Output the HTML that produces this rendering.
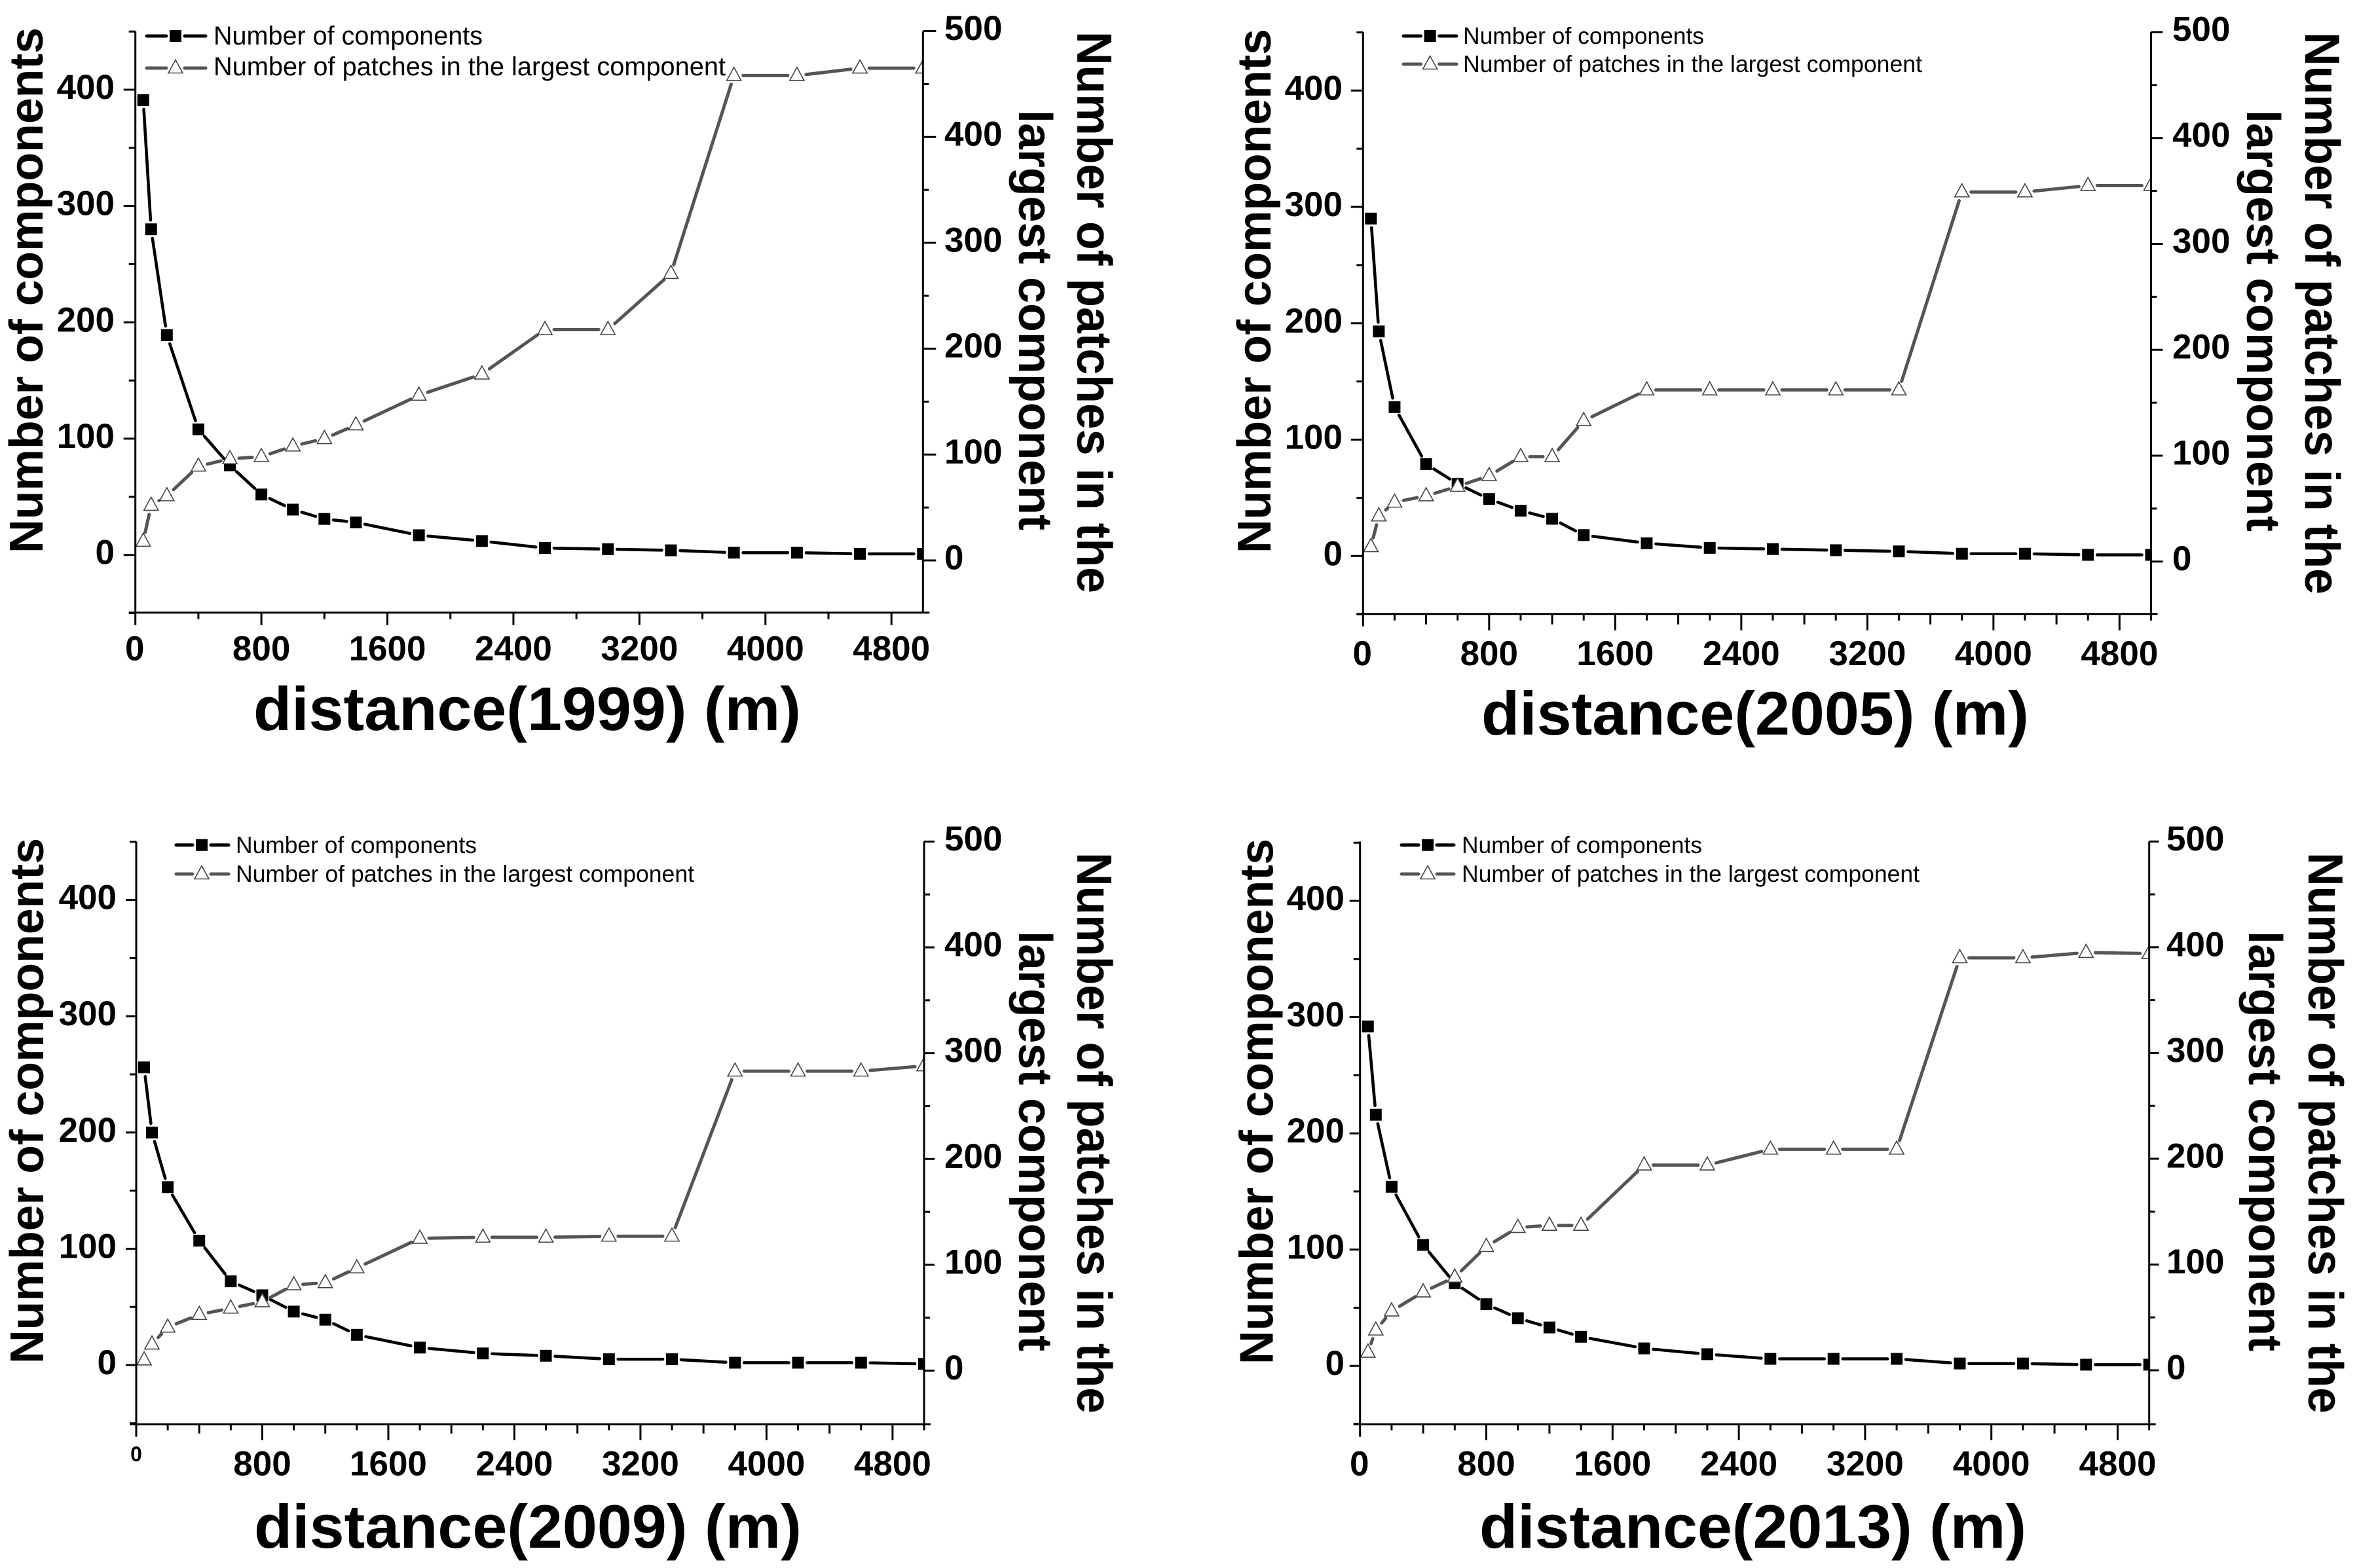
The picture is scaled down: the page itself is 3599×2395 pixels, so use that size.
<!DOCTYPE html>
<html lang="en">
<head>
<meta charset="utf-8">
<title>Components and largest component vs distance</title>
<style>
html,body{margin:0;padding:0;background:#fff;}
svg{display:block;}
text{font-family:"Liberation Sans",sans-serif;fill:#000;}
.title{font-size:94px;font-weight:bold;}
.ylab{font-size:72px;font-weight:bold;}
.ylab1{font-size:75px;font-weight:bold;}
.leg{font-size:36px;}
.legbig{font-size:39.5px;}
.tick{font-size:53px;font-weight:bold;}
</style>
</head>
<body>
<svg id="figure" xmlns="http://www.w3.org/2000/svg" width="3599" height="2395" viewBox="0 0 3599 2395">
<rect x="0" y="0" width="3599" height="2395" fill="#fff"/>

<g id="panel-1999"></g>
<g id="panel-2005"></g>
<g id="panel-2009"></g>
<g id="panel-2013"></g>

<!-- 1999 labels -->
<text class="title" x="387" y="1115" textLength="836" lengthAdjust="spacingAndGlyphs">distance(1999) (m)</text>
<text class="ylab" transform="translate(65,845) rotate(-90)" textLength="803" lengthAdjust="spacingAndGlyphs">Number of components</text>
<text class="ylab1" transform="translate(1645,48) rotate(90)" textLength="858" lengthAdjust="spacingAndGlyphs">Number of patches in the</text>
<text class="ylab" transform="translate(1556,168) rotate(90)" textLength="642" lengthAdjust="spacingAndGlyphs">largest component</text>
<g>
  <text class="legbig" x="326" y="68" textLength="411" lengthAdjust="spacingAndGlyphs">Number of components</text>
  <text class="legbig" x="326" y="115" textLength="782" lengthAdjust="spacingAndGlyphs">Number of patches in the largest component</text>
</g>

<!-- 2005 labels -->
<text class="title" x="2262" y="1122" textLength="836" lengthAdjust="spacingAndGlyphs">distance(2005) (m)</text>
<text class="ylab" transform="translate(1940,845) rotate(-90)" textLength="801" lengthAdjust="spacingAndGlyphs">Number of components</text>
<text class="ylab1" transform="translate(3520,49) rotate(90)" textLength="859" lengthAdjust="spacingAndGlyphs">Number of patches in the</text>
<text class="ylab" transform="translate(3431,168) rotate(90)" textLength="644" lengthAdjust="spacingAndGlyphs">largest component</text>
<g>
  <text class="leg" x="2234" y="67" textLength="368" lengthAdjust="spacingAndGlyphs">Number of components</text>
  <text class="leg" x="2234" y="110" textLength="701" lengthAdjust="spacingAndGlyphs">Number of patches in the largest component</text>
</g>

<!-- 2009 labels -->
<text class="title" x="388" y="2364" textLength="836" lengthAdjust="spacingAndGlyphs">distance(2009) (m)</text>
<text class="ylab" transform="translate(66,2083) rotate(-90)" textLength="803" lengthAdjust="spacingAndGlyphs">Number of components</text>
<text class="ylab1" transform="translate(1645,1302) rotate(90)" textLength="857" lengthAdjust="spacingAndGlyphs">Number of patches in the</text>
<text class="ylab" transform="translate(1556,1422) rotate(90)" textLength="642" lengthAdjust="spacingAndGlyphs">largest component</text>
<g>
  <text class="leg" x="360" y="1303" textLength="368" lengthAdjust="spacingAndGlyphs">Number of components</text>
  <text class="leg" x="360" y="1347" textLength="700" lengthAdjust="spacingAndGlyphs">Number of patches in the largest component</text>
</g>

<!-- 2013 labels -->
<text class="title" x="2259" y="2364" textLength="835" lengthAdjust="spacingAndGlyphs">distance(2013) (m)</text>
<text class="ylab" transform="translate(1943.6,2084) rotate(-90)" textLength="803" lengthAdjust="spacingAndGlyphs">Number of components</text>
<text class="ylab1" transform="translate(3525,1302) rotate(90)" textLength="857" lengthAdjust="spacingAndGlyphs">Number of patches in the</text>
<text class="ylab" transform="translate(3434,1422) rotate(90)" textLength="642" lengthAdjust="spacingAndGlyphs">largest component</text>
<g>
  <text class="leg" x="2232" y="1303" textLength="367" lengthAdjust="spacingAndGlyphs">Number of components</text>
  <text class="leg" x="2232" y="1347" textLength="699" lengthAdjust="spacingAndGlyphs">Number of patches in the largest component</text>
</g>
</svg>

<script>
// ---- chart data ----
var distances = [50,100,200,400,600,800,1000,1200,1400,1800,2200,2600,3000,3400,3800,4200,4600,5000];

var components1999 = [391,280,189,108,77,52,39,31,28,17,12,6,5,4,2,2,1,1];
var patches1999    = [18,52,61,89,96,98,108,115,128,156,176,218,218,271,458,458,465,465];

var components2005 = [290,193,128,79,62,49,39,32,18,11,7,6,5,4,2,2,1,1];
var patches2005    = [14,43,56,62,71,81,99,99,133,162,162,162,162,162,349,349,355,355];

var components2009 = [256,200,153,107,72,60,46,39,26,15,10,8,5,5,2,2,2,1];
var patches2009    = [10,25,41,53,59,65,81,83,97,125,126,126,127,127,283,283,283,288];

var components2013 = [292,216,154,104,71,53,41,33,25,15,10,6,6,6,2,2,1,1];
var patches2013    = [17,38,56,74,88,117,135,137,137,194,194,209,209,209,390,390,395,394];

var xTickLabels = [0,800,1600,2400,3200,4000,4800];
var xMinorTicks = [400,1200,2000,2800,3600,4400];
var xSmallTicks = [200,600,1000,1400,1800,2200,2600,3000,3400,3800,4200,4600,5000];
var leftTickLabels = [0,100,200,300,400];
var leftMinorTicks = [-50,50,150,250,350,450];
var rightTickLabels = [0,100,200,300,400,500];
var rightMinorTicks = [50,150,250,350,450];

// ---- drawing ----
var NS = 'http://www.w3.org/2000/svg';
var BLACK = '#000';
var GRAY = '#555';

function make(parent, tag, attrs, text) {
  var e = document.createElementNS(NS, tag);
  for (var k in attrs) e.setAttribute(k, attrs[k]);
  if (text !== undefined) e.textContent = text;
  parent.appendChild(e);
  return e;
}

function linear(d0, d1, r0, r1) {
  return function (v) { return r0 + (v - d0) * (r1 - r0) / (d1 - d0); };
}

function segments(parent, pts, color, width, gap, name) {
  for (var i = 0; i < pts.length - 1; i++) {
    var a = pts[i], b = pts[i + 1];
    var dx = b[0] - a[0], dy = b[1] - a[1];
    var len = Math.sqrt(dx * dx + dy * dy);
    if (len <= 2 * gap) continue;
    var ux = dx / len, uy = dy / len;
    var seg = make(parent, 'line', {
      x1: a[0] + ux * gap, y1: a[1] + uy * gap,
      x2: b[0] - ux * gap, y2: b[1] - uy * gap,
      stroke: color, 'stroke-width': width, 'stroke-linecap': 'round'
    });
    
    
  }
}

function square(parent, x, y, name) {
  var m = make(parent, 'rect', { x: x - 9, y: y - 9, width: 18, height: 18, fill: BLACK });
  
  
}

function triangle(parent, x, y, name) {
  var pts = (x - 11) + ',' + (y + 7.5) + ' ' + (x + 11) + ',' + (y + 7.5) + ' ' + x + ',' + (y - 12.5);
  var m = make(parent, 'polygon', { points: pts, fill: '#fff', stroke: '#444', 'stroke-width': 1.6 });
  
  
}

function axisLine(parent, x1, y1, x2, y2, name) {
  var l = make(parent, 'line', { x1: x1, y1: y1, x2: x2, y2: y2, stroke: BLACK, 'stroke-width': 3 });
  
  
}

function label(parent, x, y, anchor, str, size, name) {
  var attrs = { x: x, y: y, 'text-anchor': anchor, 'class': 'tick' };
  if (size) attrs.style = 'font-size:' + size + 'px';
  var t = make(parent, 'text', attrs, str);
  
  
}

function drawPanel(id, comps, patches, L) {
  var g = document.getElementById(id);
  var sx = linear(0, 5000, L.xLeft, L.xRight);
  var sl = linear(0, 400, L.left0, L.left400);
  var sr = linear(0, 500, L.right0, L.right500);

  // series first, clipped at the right axis
  var defs = make(g, 'clipPath', { id: id + '-clip' });
  
  
  make(defs, 'rect', { x: L.xLeft - 30, y: L.top - 30, width: L.xRight - L.xLeft + 31, height: L.bottom - L.top + 60 });
  var plot = make(g, 'g', { 'clip-path': 'url(#' + id + '-clip)' });
  
  

  var cPts = distances.map(function (d, i) { return [sx(d), sl(comps[i])]; });
  var pPts = distances.map(function (d, i) { return [sx(d), sr(patches[i])]; });
  segments(plot, cPts, BLACK, 4.6, 14, 'components-line');
  segments(plot, pPts, GRAY, 5, 14, 'patches-line');
  cPts.forEach(function (p) { square(plot, p[0], p[1], 'components-point'); });
  pPts.forEach(function (p) { triangle(plot, p[0], p[1], 'patches-point'); });

  // axes
  axisLine(g, L.xLeft, L.top, L.xLeft, L.bottom + 19, 'left-y-axis');
  axisLine(g, L.xRight, L.top, L.xRight, L.bottom, 'right-y-axis');
  axisLine(g, L.xLeft - 10, L.bottom, L.xRight + 10, L.bottom, 'x-axis');

  xTickLabels.forEach(function (v) {
    if (v !== 0) axisLine(g, sx(v), L.bottom, sx(v), L.bottom + L.xMajor, 'x-major-tick');
    var special = (L.smallZero && v === 0);
    label(g, sx(v) - (v === 0 && !special ? 1 : 0), special ? L.smallZero : L.xLabelBase, 'middle', String(v), special ? 32 : 0, 'x-tick-label');
  });
  xMinorTicks.forEach(function (v) {
    axisLine(g, sx(v), L.bottom, sx(v), L.bottom + L.xMinor, 'x-minor-tick');
  });
  if (L.xSmall) {
    xSmallTicks.forEach(function (v) {
      axisLine(g, sx(v), L.bottom, sx(v), L.bottom + L.xSmall, 'x-small-tick');
    });
  }
  leftTickLabels.forEach(function (v) {
    axisLine(g, L.xLeft - L.leftMajor, sl(v), L.xLeft, sl(v), 'left-major-tick');
    label(g, L.leftLabelX, sl(v) + 14, 'end', String(v), 0, 'left-tick-label');
  });
  leftMinorTicks.forEach(function (v) {
    axisLine(g, L.xLeft - 10, sl(v), L.xLeft, sl(v), 'left-minor-tick');
  });
  rightTickLabels.forEach(function (v) {
    axisLine(g, L.xRight, sr(v), L.xRight + L.rightMajor, sr(v), 'right-major-tick');
    label(g, L.rightLabelX, sr(v) + 13.5, 'start', String(v), 0, 'right-tick-label');
  });
  rightMinorTicks.forEach(function (v) {
    axisLine(g, L.xRight, sr(v), L.xRight + 9, sr(v), 'right-minor-tick');
  });

  // legend swatches
  var lg = L.legend;
  legendSwatch(g, lg.x1, lg.mid - 14, lg.y1, BLACK);
  legendSwatch(g, lg.mid + 14, lg.x2, lg.y1, BLACK);
  legendSwatch(g, lg.x1, lg.mid - 14, lg.y2, GRAY);
  legendSwatch(g, lg.mid + 14, lg.x2, lg.y2, GRAY);
  square(g, lg.mid, lg.y1, 'legend-square-marker');
  triangle(g, lg.mid, lg.y2, 'legend-triangle-marker');
}

function legendSwatch(parent, x1, x2, y, color) {
  var l = make(parent, 'line', { x1: x1, y1: y, x2: x2, y2: y, stroke: color, 'stroke-width': 5, 'stroke-linecap': 'round' });
  
  
}

drawPanel('panel-1999', components1999, patches1999, {
  xLeft: 206.7, xRight: 1409.3, top: 48, bottom: 935.7,
  left0: 847.7, left400: 137, right0: 856, right500: 47.5,
  leftLabelX: 175, rightLabelX: 1442, xLabelBase: 1008.5,
  xMajor: 19, xMinor: 10, xSmall: 0, leftMajor: 18, rightMajor: 20,
  legend: { x1: 224, x2: 314, mid: 268, y1: 55, y2: 104 }
});
drawPanel('panel-2005', components2005, patches2005, {
  xLeft: 2081.3, xRight: 3284.5, top: 49, bottom: 937.7,
  left0: 849.3, left400: 138.3, right0: 857.7, right500: 49,
  leftLabelX: 2050, rightLabelX: 3317, xLabelBase: 1016,
  xMajor: 25, xMinor: 16, xSmall: 10, leftMajor: 18.5, rightMajor: 18,
  legend: { x1: 2143, x2: 2224, mid: 2183.6, y1: 55, y2: 98 }
});
drawPanel('panel-2009', components2009, patches2009, {
  xLeft: 208, xRight: 1411, top: 1285.4, bottom: 2175.6,
  left0: 2085, left400: 1374.6, right0: 2093.5, right500: 1285.4,
  leftLabelX: 178, rightLabelX: 1442, xLabelBase: 2253.5, smallZero: 2232,
  xMajor: 24, xMinor: 14, xSmall: 9, leftMajor: 16, rightMajor: 16,
  legend: { x1: 269, x2: 349, mid: 308, y1: 1290.7, y2: 1335 }
});
drawPanel('panel-2013', components2013, patches2013, {
  xLeft: 2076.7, xRight: 3281.7, top: 1285.4, bottom: 2175.6,
  left0: 2086.2, left400: 1376, right0: 2093, right500: 1285.3,
  leftLabelX: 2053, rightLabelX: 3308, xLabelBase: 2253.5,
  xMajor: 24, xMinor: 14, xSmall: 9, leftMajor: 16, rightMajor: 15,
  legend: { x1: 2140, x2: 2220, mid: 2180, y1: 1290.7, y2: 1335 }
});
</script>
</body>
</html>
